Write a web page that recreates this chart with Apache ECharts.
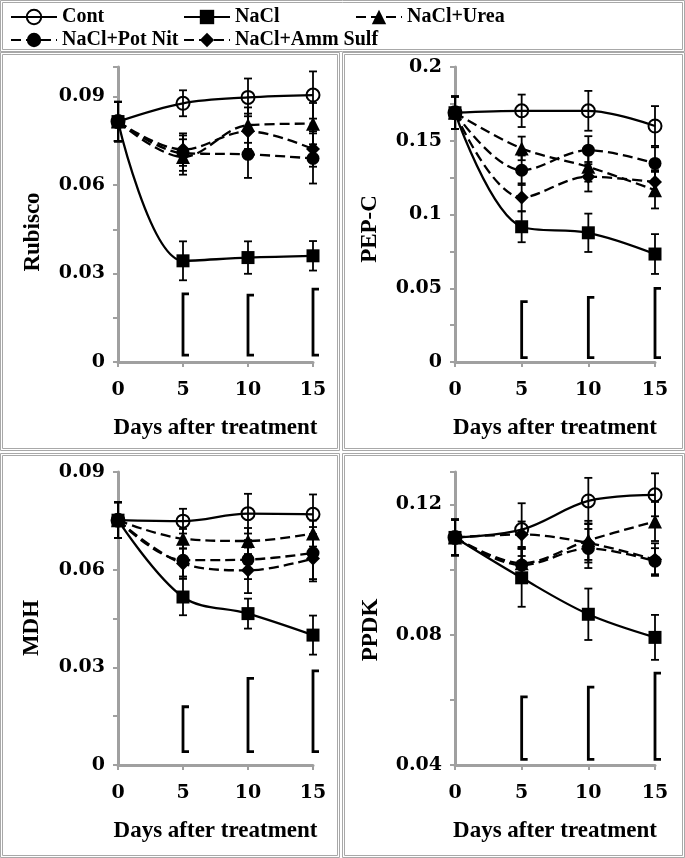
<!DOCTYPE html>
<html><head><meta charset="utf-8">
<script src="https://cdn.jsdelivr.net/npm/echarts@6/dist/echarts.min.js"></script>
<style>html,body{margin:0;padding:0;background:#fff}#c{width:685px;height:858px}</style>
</head><body><div id="c"></div>
<script>
// ---------- data ----------
const days = [0, 5, 10, 15];
const lsdDays = [5, 10, 15];
const seriesNames = ['Cont', 'NaCl', 'NaCl+Urea', 'NaCl+Pot Nit', 'NaCl+Amm Sulf'];
const panelTitles = ['Rubisco', 'PEP-C', 'MDH', 'PPDK'];
const xAxisTitle = 'Days after treatment';

// Rubisco
const rubCont = [0.0815, 0.0877, 0.0897, 0.0905];
const rubContErr = [0.0067, 0.0044, 0.0064, 0.0080];
const rubNaCl = [0.0815, 0.0343, 0.0354, 0.0360];
const rubNaClErr = [0.0067, 0.0066, 0.0055, 0.0050];
const rubUrea = [0.0815, 0.0695, 0.0803, 0.0808];
const rubUreaErr = [0.0067, 0.0060, 0.0060, 0.0070];
const rubPot = [0.0815, 0.0708, 0.0704, 0.0690];
const rubPotErr = [0.0067, 0.0060, 0.0080, 0.0085];
const rubAmm = [0.0815, 0.0720, 0.0782, 0.0722];
const rubAmmErr = [0.0067, 0.0055, 0.0060, 0.0060];
const rubLsdTop = [0.0231, 0.0227, 0.0247];
const rubLsdBottom = [0.0023, 0.0023, 0.0023];

// PEP-C
const pepCont = [0.169, 0.1703, 0.1703, 0.160];
const pepContErr = [0.011, 0.011, 0.0135, 0.0135];
const pepNaCl = [0.169, 0.0917, 0.0876, 0.0732];
const pepNaClErr = [0.011, 0.0105, 0.0130, 0.0135];
const pepUrea = [0.169, 0.1448, 0.1323, 0.1165];
const pepUreaErr = [0.011, 0.008, 0.010, 0.0124];
const pepPot = [0.169, 0.130, 0.1436, 0.1346];
const pepPotErr = [0.011, 0.010, 0.0095, 0.011];
const pepAmm = [0.169, 0.1116, 0.1256, 0.122];
const pepAmmErr = [0.011, 0.0095, 0.010, 0.008];
const pepLsdTop = [0.0409, 0.0438, 0.0499];
const pepLsdBottom = [0.003, 0.003, 0.003];

// MDH
const mdhCont = [0.0752, 0.0749, 0.0772, 0.0770];
const mdhContErr = [0.0055, 0.0038, 0.0061, 0.0061];
const mdhNaCl = [0.0752, 0.0516, 0.0465, 0.0399];
const mdhNaClErr = [0.0055, 0.0056, 0.0046, 0.0060];
const mdhUrea = [0.0752, 0.0695, 0.0688, 0.0711];
const mdhUreaErr = [0.0055, 0.0030, 0.0040, 0.0040];
const mdhPot = [0.0752, 0.0629, 0.0631, 0.0651];
const mdhPotErr = [0.0055, 0.0050, 0.0060, 0.0080];
const mdhAmm = [0.0752, 0.0619, 0.0598, 0.0634];
const mdhAmmErr = [0.0055, 0.0046, 0.0070, 0.0070];
const mdhLsdTop = [0.0179, 0.0266, 0.0289];
const mdhLsdBottom = [0.0041, 0.0041, 0.0041];

// PPDK
const ppdCont = [0.1099, 0.1123, 0.1211, 0.1230];
const ppdContErr = [0.0055, 0.0081, 0.0071, 0.0066];
const ppdNaCl = [0.1099, 0.0975, 0.0863, 0.0792];
const ppdNaClErr = [0.0055, 0.0089, 0.0079, 0.0069];
const ppdUrea = [0.1099, 0.1020, 0.1090, 0.1148];
const ppdUreaErr = [0.0055, 0.0050, 0.0060, 0.0060];
const ppdPot = [0.1099, 0.1014, 0.1065, 0.1026];
const ppdPotErr = [0.0055, 0.0050, 0.0060, 0.0040];
const ppdAmm = [0.1099, 0.1108, 0.1082, 0.1031];
const ppdAmmErr = [0.0055, 0.0040, 0.0060, 0.0050];
const ppdLsdTop = [0.0609, 0.0639, 0.0682];
const ppdLsdBottom = [0.0417, 0.0417, 0.0417];

// axis scales (tick labels)
const yMin = [0, 0, 0, 0.04];
const yMax = [0.1, 0.2, 0.09, 0.13];
const yTickStep = [0.015, 0.025, 0.015, 0.02];
const yLabelStep = [0.03, 0.05, 0.03, 0.04];
const xMin = 0, xMax = 15, xStep = 5;

// ---------- assembly ----------
const panels = [
  {vals: [rubCont, rubNaCl, rubUrea, rubPot, rubAmm], errs: [rubContErr, rubNaClErr, rubUreaErr, rubPotErr, rubAmmErr], lsdTop: rubLsdTop, lsdBottom: rubLsdBottom},
  {vals: [pepCont, pepNaCl, pepUrea, pepPot, pepAmm], errs: [pepContErr, pepNaClErr, pepUreaErr, pepPotErr, pepAmmErr], lsdTop: pepLsdTop, lsdBottom: pepLsdBottom},
  {vals: [mdhCont, mdhNaCl, mdhUrea, mdhPot, mdhAmm], errs: [mdhContErr, mdhNaClErr, mdhUreaErr, mdhPotErr, mdhAmmErr], lsdTop: mdhLsdTop, lsdBottom: mdhLsdBottom},
  {vals: [ppdCont, ppdNaCl, ppdUrea, ppdPot, ppdAmm], errs: [ppdContErr, ppdNaClErr, ppdUreaErr, ppdPotErr, ppdAmmErr], lsdTop: ppdLsdTop, lsdBottom: ppdLsdBottom}
];

const gridPos = [
  {left: 118, top: 67, width: 195, height: 295},
  {left: 455, top: 67, width: 200, height: 295},
  {left: 118, top: 472, width: 195, height: 293},
  {left: 455, top: 472, width: 200, height: 293}
];
const yTitlePos = [[33, 232], [370, 229], [32, 628], [371, 630]];

const axisGray = '#a0a0a0';
const serifFont = '"Liberation Serif", "Times New Roman", serif';
const tickFont = '"DejaVu Serif", serif';

const symbolStyle = [
  {symbol: 'circle', size: 13, fill: 'rgba(0,0,0,0)', dashed: false},
  {symbol: 'rect', size: 13, fill: '#000', dashed: false},
  {symbol: 'triangle', size: 14, fill: '#000', dashed: true},
  {symbol: 'circle', size: 13, fill: '#000', dashed: true},
  {symbol: 'diamond', size: 14, fill: '#000', dashed: true}
];
const drawOrder = [2, 3, 4, 0, 1];

function errRender(params, api) {
  const x = api.value(0), y = api.value(1), e = api.value(2);
  const t = api.coord([x, y + e]), b = api.coord([x, y - e]);
  const w = 4, st = {stroke: '#000', lineWidth: 1.8};
  return {type: 'group', children: [
    {type: 'line', shape: {x1: t[0], y1: t[1], x2: b[0], y2: b[1]}, style: st},
    {type: 'line', shape: {x1: t[0] - w, y1: t[1], x2: t[0] + w, y2: t[1]}, style: st},
    {type: 'line', shape: {x1: b[0] - w, y1: b[1], x2: b[0] + w, y2: b[1]}, style: st}
  ]};
}
function lsdRender(params, api) {
  const x = api.value(0), lo = api.value(1), hi = api.value(2);
  const a = api.coord([x, hi]), b = api.coord([x, lo]);
  return {type: 'polyline', shape: {points: [[a[0] + 6, a[1]], [a[0], a[1]], [b[0], b[1]], [b[0] + 6, b[1]]]},
    style: {stroke: '#000', lineWidth: 2.8, fill: null}};
}

const grids = [], xAxes = [], yAxes = [], series = [], graphics = [];
panels.forEach((p, i) => {
  grids.push(Object.assign({containLabel: false}, gridPos[i]));
  xAxes.push({
    type: 'value', gridIndex: i, min: xMin, max: xMax, interval: xStep,
    name: xAxisTitle, nameLocation: 'middle', nameGap: 55,
    nameTextStyle: {fontFamily: serifFont, fontWeight: 'bold', fontSize: 23, color: '#000'},
    axisLine: {show: true, onZero: false, lineStyle: {color: axisGray, width: 3}},
    axisTick: {show: true, length: 5, lineStyle: {color: axisGray, width: 2}},
    splitLine: {show: false},
    axisLabel: {fontFamily: tickFont, fontWeight: 'bold', fontSize: 19, color: '#000', margin: 19}
  });
  const step = yLabelStep[i];
  yAxes.push({
    type: 'value', gridIndex: i, min: yMin[i], max: yMax[i], interval: yTickStep[i],
    axisLine: {show: true, lineStyle: {color: axisGray, width: 3}},
    axisTick: {show: true, length: 5, lineStyle: {color: axisGray, width: 2}},
    splitLine: {show: false},
    axisLabel: {fontFamily: tickFont, fontWeight: 'bold', fontSize: 19, color: '#000', margin: 13,
      formatter: function (v) {
        const k = v / step;
        return Math.abs(k - Math.round(k)) < 1e-6 ? String(+v.toFixed(3)) : '';
      }}
  });
  drawOrder.forEach(s => {
    const ss = symbolStyle[s];
    series.push({
      type: 'line', name: seriesNames[s], xAxisIndex: i, yAxisIndex: i,
      data: days.map((d, k) => [d, p.vals[s][k]]),
      smooth: 0.35,
      symbol: ss.symbol, symbolSize: ss.size,
      lineStyle: {color: '#000', width: 2.3, type: ss.dashed ? [10, 5] : 'solid'},
      itemStyle: {color: ss.fill, borderColor: '#000', borderWidth: s === 0 ? 2 : 0},
      emphasis: {disabled: true}, animation: false, z: 2
    });
  });
  const errData = [];
  seriesNames.forEach((n, s) => days.forEach((d, k) => errData.push([d, p.vals[s][k], p.errs[s][k]])));
  series.push({type: 'custom', xAxisIndex: i, yAxisIndex: i, renderItem: errRender,
    data: errData, encode: {x: 0, y: 1}, z: 5, animation: false, silent: true});
  series.push({type: 'custom', xAxisIndex: i, yAxisIndex: i, renderItem: lsdRender,
    data: lsdDays.map((d, k) => [d, p.lsdBottom[k], p.lsdTop[k]]), encode: {x: 0, y: [1, 2]}, z: 5, animation: false, silent: true});
  graphics.push({type: 'text', x: yTitlePos[i][0], y: yTitlePos[i][1], rotation: Math.PI / 2,
    style: {text: panelTitles[i], font: 'bold 23px ' + serifFont, fill: '#000', textAlign: 'center', textVerticalAlign: 'middle'}});
});

// borders
function frame(x, y, w, h) {
  graphics.push({type: 'rect', shape: {x: x, y: y, width: w, height: h}, style: {fill: null, stroke: '#a8a8a8', lineWidth: 1}, z: 0});
  graphics.push({type: 'rect', shape: {x: x + 2, y: y + 2, width: w - 4, height: h - 4}, style: {fill: null, stroke: '#a8a8a8', lineWidth: 1}, z: 0});
}
frame(0.5, 0.5, 684, 51);
frame(0.5, 52.5, 339, 398);
frame(342.5, 52.5, 342, 398);
frame(0.5, 453.5, 339, 404);
frame(342.5, 453.5, 342, 404);

const legendPos = [[10, 7], [183, 7], [355, 7], [10, 30], [183, 30]];
const legends = seriesNames.map((n, s) => ({
  data: [n], left: legendPos[s][0], top: legendPos[s][1], padding: 0,
  itemWidth: 46, itemHeight: 18, itemGap: 6, selectedMode: false,
  textStyle: {fontFamily: serifFont, fontWeight: 'bold', fontSize: 20, color: '#000'}
}));

const chart = echarts.init(document.getElementById('c'), null, {renderer: 'canvas'});
chart.setOption({
  animation: false,
  backgroundColor: '#fff',
  legend: legends,
  grid: grids, xAxis: xAxes, yAxis: yAxes, series: series,
  graphic: graphics
});
</script></body></html>
